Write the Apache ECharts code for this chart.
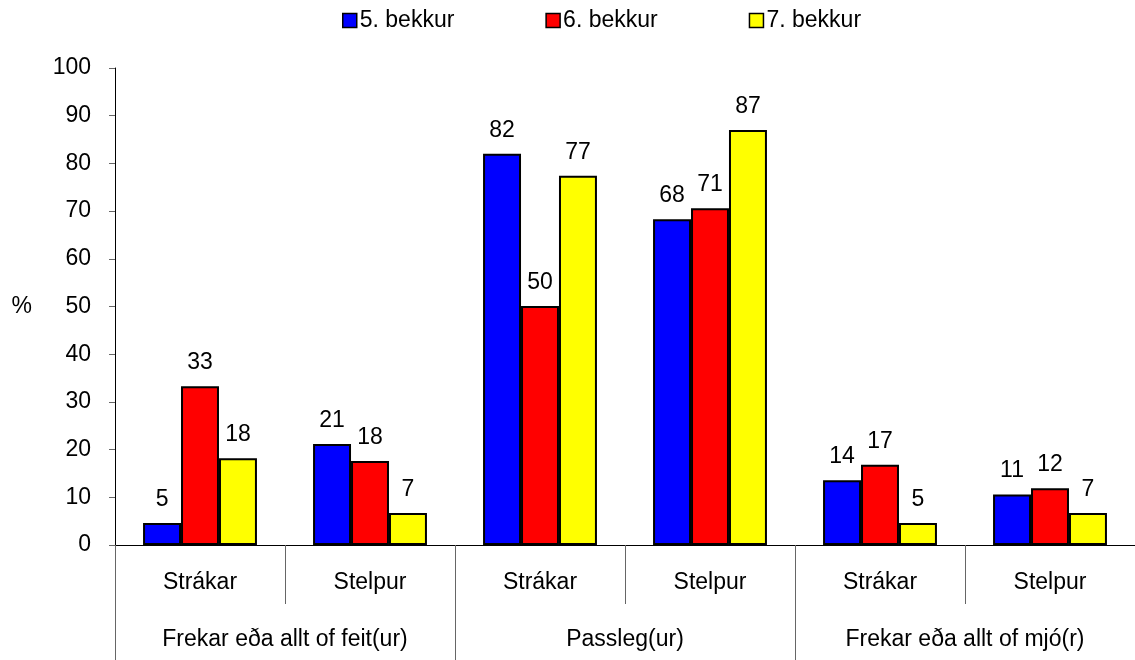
<!DOCTYPE html>
<html>
<head>
<meta charset="utf-8">
<script src="https://cdn.jsdelivr.net/npm/echarts@6/dist/echarts.min.js"></script>
<style>
  html, body { margin: 0; padding: 0; background: #fff; }
  #chart { width: 1135px; height: 660px; }
</style>
</head>
<body>
<div id="chart"></div>
<script>
// 数据
const categories = ['Strákar', 'Stelpur', 'Strákar', 'Stelpur', 'Strákar', 'Stelpur'];
const groups = ['Frekar eða allt of feit(ur)', 'Passleg(ur)', 'Frekar eða allt of mjó(r)'];
const seriesNames = ['5. bekkur', '6. bekkur', '7. bekkur'];
const bekkur5 = [4.6, 21.2, 82.0, 68.3, 13.6, 10.6];
const bekkur6 = [33.3, 17.6, 50.1, 70.6, 16.8, 11.9];
const bekkur7 = [18.2, 6.7, 77.4, 87.0, 4.6, 6.7];
const colors = ['#0000ff', '#ff0000', '#ffff00'];

const font = 'Liberation Sans, Arial, sans-serif';
const fs = 23;
const chart = echarts.init(document.getElementById('chart'));

function makeSeries(name, data, color) {
  return {
    name: name,
    type: 'bar',
    xAxisIndex: 0,
    data: data,
    barGap: '0%',
    barCategoryGap: '33%',
    itemStyle: { color: color, borderColor: '#000', borderWidth: 2 },
    label: {
      show: true,
      position: 'top',
      distance: 12,
      color: '#000',
      fontSize: fs,
      fontFamily: font,
      formatter: p => Math.round(p.value)
    }
  };
}

const option = {
  animation: false,
  legend: {
    top: 4,
    left: 337,
    itemWidth: 14,
    itemHeight: 14,
    itemGap: 91,
    icon: 'rect',
    itemStyle: { borderColor: '#000', borderWidth: 1.5 },
    textStyle: { fontSize: fs, fontFamily: font, color: '#000', padding: [0, 0, 0, -2] },
    data: seriesNames
  },
  grid: { left: 115, right: -6, top: 68, bottom: 115 },
  xAxis: [
    {
      type: 'category',
      data: categories,
      axisLine: { lineStyle: { color: '#000', width: 1 } },
      axisTick: { show: true, interval: 0, length: 59, lineStyle: { color: '#666' } },
      axisLabel: { interval: 0, margin: 26, fontSize: fs, fontFamily: font, color: '#000' }
    },
    {
      type: 'category',
      position: 'bottom',
      data: groups,
      axisLine: { show: false },
      axisTick: { show: true, interval: 0, length: 115, lineStyle: { color: '#666' } },
      axisLabel: { interval: 0, margin: 83, fontSize: fs, fontFamily: font, color: '#000' }
    }
  ],
  yAxis: {
    type: 'value',
    min: 0,
    max: 100,
    interval: 10,
    name: '%',
    nameLocation: 'middle',
    nameRotate: 0,
    nameGap: 83,
    nameTextStyle: { fontSize: fs, fontFamily: font, color: '#000' },
    axisLine: { show: true, lineStyle: { color: '#000' } },
    axisTick: { show: true, length: 6, lineStyle: { color: '#666' } },
    axisLabel: { margin: 24, fontSize: fs, fontFamily: font, color: '#000' },
    splitLine: { show: false }
  },
  series: [
    makeSeries(seriesNames[0], bekkur5, colors[0]),
    makeSeries(seriesNames[1], bekkur6, colors[1]),
    makeSeries(seriesNames[2], bekkur7, colors[2])
  ]
};

chart.setOption(option);
</script>
</body>
</html>
